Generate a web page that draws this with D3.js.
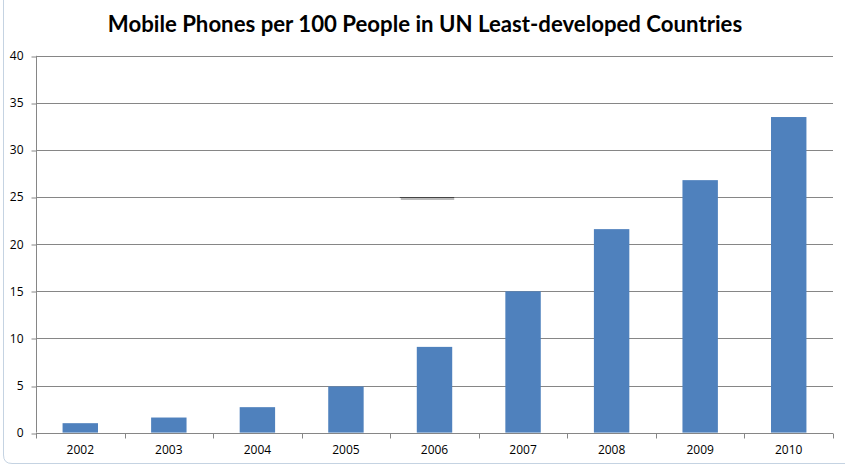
<!DOCTYPE html>
<html>
<head>
<meta charset="utf-8">
<script src="https://cdn.jsdelivr.net/npm/d3@7"></script>
<style>
  body { margin: 0; background: #fff; }
  svg { display: block; }
</style>
</head>
<body>
<div id="container"></div>
<script>
/* DATA */
var years = ['2002', '2003', '2004', '2005', '2006', '2007', '2008', '2009', '2010'];
var phones = [1.0, 1.6, 2.7, 4.9, 9.1, 15.0, 21.6, 26.8, 33.5];
var yTicks = [0, 5, 10, 15, 20, 25, 30, 35, 40];

var width = 845,
    height = 466,
    plotLeft = 36,
    plotRight = 833,
    plotTop = 55.8,
    plotBottom = 432.6;

var svg = d3.select('#container').append('svg')
    .attr('width', width)
    .attr('height', height);

// faint window frame at the left / bottom
svg.append('path')
  .attr('d', 'M3.5,0 V455 Q3.5,463.5 12,463.5 H845')
  .attr('fill', 'none')
  .attr('stroke', '#c5d3e2')
  .attr('stroke-width', 1);

var xScale = d3.scaleBand()
  .domain(years)
  .range([plotLeft, plotRight])
  .paddingInner(0.6)
  .paddingOuter(0.3);

var yScale = d3.scaleLinear()
  .domain([0, 40])
  .range([plotBottom, plotTop]);

// title
svg.append('text')
  .attr('x', 425)
  .attr('y', 32)
  .attr('text-anchor', 'middle')
  .style('font-family', 'Lato, "Open Sans", sans-serif')
  .style('font-weight', 'bold')
  .style('font-size', '22.2px')
  .style('fill', '#000')
  .text('Mobile Phones per 100 People in UN Least-developed Countries');

// gridlines
svg.append('g')
  .selectAll('line').data(yTicks.filter(function(d) { return d > 0; }))
  .enter().append('line')
    .attr('x1', plotLeft)
    .attr('x2', plotRight)
    .attr('y1', function(d) { return Math.round(yScale(d)) + 0.5; })
    .attr('y2', function(d) { return Math.round(yScale(d)) + 0.5; })
    .attr('stroke', '#868686')
    .attr('stroke-width', 1);

// y axis
var yAxis = d3.axisLeft(yScale)
  .tickValues(yTicks)
  .tickSize(5)
  .tickPadding(8);

var gy = svg.append('g')
  .attr('transform', 'translate(' + (plotLeft + 0.5) + ',0)')
  .call(yAxis);
gy.select('.domain').attr('stroke', '#868686').attr('d', 'M0,' + yScale(40) + 'V' + yScale(0));
gy.selectAll('.tick line').attr('stroke', '#868686')
  .attr('transform', function(d) { return 'translate(0,' + (Math.round(yScale(d)) + 0.5 - yScale(d)) + ')'; });
gy.selectAll('.tick text')
  .style('font-family', '"Open Sans", sans-serif')
  .style('font-size', '12px')
  .style('fill', '#000');

// bars
svg.append('g')
  .selectAll('rect').data(phones)
  .enter().append('rect')
    .style('fill', '#4f81bd')
    .attr('x', function(d, i) { return xScale(years[i]); })
    .attr('width', xScale.bandwidth())
    .attr('y', function(d) { return yScale(d); })
    .attr('height', function(d) { return yScale(0) - yScale(d); });

// x axis
var xAxis = d3.axisBottom(xScale)
  .tickSize(0)
  .tickPadding(12);

var gx = svg.append('g')
  .attr('transform', 'translate(0,' + (Math.round(plotBottom) + 0.5) + ')')
  .call(xAxis);
gx.select('.domain').attr('stroke', '#868686').attr('d', 'M' + plotLeft + ',0H' + plotRight);
gx.selectAll('.tick line').remove();
gx.selectAll('.tick text')
  .style('font-family', '"Open Sans", sans-serif')
  .style('font-size', '12px')
  .style('fill', '#000');

// tick marks at band boundaries
var bounds = d3.range(years.length + 1).map(function(i) {
  return plotLeft + i * (plotRight - plotLeft) / years.length;
});
gx.selectAll('line.bound').data(bounds)
  .enter().append('line')
    .attr('class', 'bound')
    .attr('x1', function(d) { return Math.round(d) + 0.5; })
    .attr('x2', function(d) { return Math.round(d) + 0.5; })
    .attr('y1', 0)
    .attr('y2', 5)
    .attr('stroke', '#868686');

// stray mark near 2006
svg.append('line')
  .attr('x1', xScale('2006') - 16)
  .attr('x2', xScale('2006') + xScale.bandwidth() + 2)
  .attr('y1', yScale(25) + 1.8)
  .attr('y2', yScale(25) + 1.8)
  .attr('stroke', '#bbbbbb')
  .attr('stroke-width', 2);
svg.append('line')
  .attr('x1', xScale('2006') - 17)
  .attr('x2', xScale('2006') + xScale.bandwidth() + 2)
  .attr('y1', Math.round(yScale(25)) + 0.5)
  .attr('y2', Math.round(yScale(25)) + 0.5)
  .attr('stroke', '#444')
  .attr('stroke-width', 1);
</script>
</body>
</html>
